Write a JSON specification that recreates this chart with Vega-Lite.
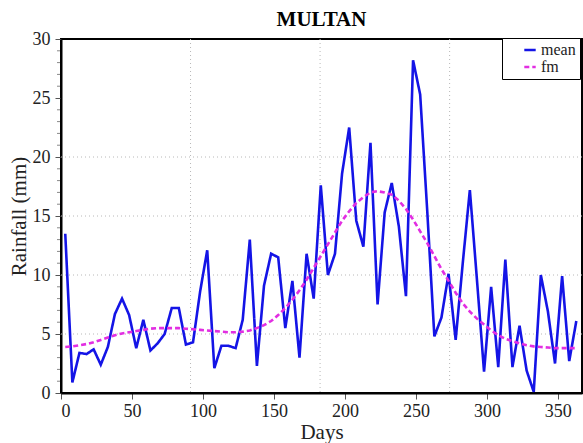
{
  "$schema": "https://vega.github.io/schema/vega-lite/v6.json",
  "autosize": {"type": "none"},
  "width": 521,
  "height": 354,
  "padding": {"left": 61, "top": 39, "right": 1, "bottom": 50},
  "background": "white",
  "config": {
    "view": {"stroke": "black", "strokeWidth": 2},
    "font": "Liberation Serif"
  },
  "title": {"text": "MULTAN", "font": "Liberation Serif", "fontSize": 21, "fontWeight": "bold", "color": "black", "frame": "group", "offset": 0},
  "datasets": {
    "series": [
      {"day": 3, "value": 13.5, "series": "mean"},
      {"day": 8, "value": 0.9, "series": "mean"},
      {"day": 13, "value": 3.4, "series": "mean"},
      {"day": 18, "value": 3.3, "series": "mean"},
      {"day": 23, "value": 3.7, "series": "mean"},
      {"day": 28, "value": 2.4, "series": "mean"},
      {"day": 33, "value": 3.9, "series": "mean"},
      {"day": 38, "value": 6.7, "series": "mean"},
      {"day": 43, "value": 8.0, "series": "mean"},
      {"day": 48, "value": 6.6, "series": "mean"},
      {"day": 53, "value": 3.8, "series": "mean"},
      {"day": 58, "value": 6.2, "series": "mean"},
      {"day": 63, "value": 3.6, "series": "mean"},
      {"day": 68, "value": 4.2, "series": "mean"},
      {"day": 73, "value": 5.0, "series": "mean"},
      {"day": 78, "value": 7.2, "series": "mean"},
      {"day": 83, "value": 7.2, "series": "mean"},
      {"day": 88, "value": 4.1, "series": "mean"},
      {"day": 93, "value": 4.3, "series": "mean"},
      {"day": 98, "value": 8.6, "series": "mean"},
      {"day": 103, "value": 12.1, "series": "mean"},
      {"day": 108, "value": 2.1, "series": "mean"},
      {"day": 113, "value": 4.0, "series": "mean"},
      {"day": 118, "value": 4.0, "series": "mean"},
      {"day": 123, "value": 3.8, "series": "mean"},
      {"day": 128, "value": 6.2, "series": "mean"},
      {"day": 133, "value": 13.0, "series": "mean"},
      {"day": 138, "value": 2.3, "series": "mean"},
      {"day": 143, "value": 9.1, "series": "mean"},
      {"day": 148, "value": 11.8, "series": "mean"},
      {"day": 153, "value": 11.5, "series": "mean"},
      {"day": 158, "value": 5.5, "series": "mean"},
      {"day": 163, "value": 9.5, "series": "mean"},
      {"day": 168, "value": 3.0, "series": "mean"},
      {"day": 173, "value": 11.8, "series": "mean"},
      {"day": 178, "value": 8.0, "series": "mean"},
      {"day": 183, "value": 17.6, "series": "mean"},
      {"day": 188, "value": 10.0, "series": "mean"},
      {"day": 193, "value": 11.8, "series": "mean"},
      {"day": 198, "value": 18.6, "series": "mean"},
      {"day": 203, "value": 22.5, "series": "mean"},
      {"day": 208, "value": 14.6, "series": "mean"},
      {"day": 213, "value": 12.4, "series": "mean"},
      {"day": 218, "value": 21.2, "series": "mean"},
      {"day": 223, "value": 7.5, "series": "mean"},
      {"day": 228, "value": 15.3, "series": "mean"},
      {"day": 233, "value": 17.8, "series": "mean"},
      {"day": 238, "value": 14.1, "series": "mean"},
      {"day": 243, "value": 8.2, "series": "mean"},
      {"day": 248, "value": 28.2, "series": "mean"},
      {"day": 253, "value": 25.3, "series": "mean"},
      {"day": 258, "value": 15.4, "series": "mean"},
      {"day": 263, "value": 4.8, "series": "mean"},
      {"day": 268, "value": 6.4, "series": "mean"},
      {"day": 273, "value": 10.1, "series": "mean"},
      {"day": 278, "value": 4.5, "series": "mean"},
      {"day": 283, "value": 11.0, "series": "mean"},
      {"day": 288, "value": 17.2, "series": "mean"},
      {"day": 293, "value": 9.6, "series": "mean"},
      {"day": 298, "value": 1.8, "series": "mean"},
      {"day": 303, "value": 9.0, "series": "mean"},
      {"day": 308, "value": 2.2, "series": "mean"},
      {"day": 313, "value": 11.3, "series": "mean"},
      {"day": 318, "value": 2.2, "series": "mean"},
      {"day": 323, "value": 5.7, "series": "mean"},
      {"day": 328, "value": 1.9, "series": "mean"},
      {"day": 333, "value": 0.1, "series": "mean"},
      {"day": 338, "value": 10.0, "series": "mean"},
      {"day": 343, "value": 6.9, "series": "mean"},
      {"day": 348, "value": 2.5, "series": "mean"},
      {"day": 353, "value": 9.9, "series": "mean"},
      {"day": 358, "value": 2.7, "series": "mean"},
      {"day": 363, "value": 6.1, "series": "mean"},
      {"day": 3, "value": 3.9, "series": "fm"},
      {"day": 8, "value": 3.95, "series": "fm"},
      {"day": 13, "value": 4.05, "series": "fm"},
      {"day": 18, "value": 4.15, "series": "fm"},
      {"day": 23, "value": 4.3, "series": "fm"},
      {"day": 28, "value": 4.5, "series": "fm"},
      {"day": 33, "value": 4.7, "series": "fm"},
      {"day": 38, "value": 4.9, "series": "fm"},
      {"day": 43, "value": 5.05, "series": "fm"},
      {"day": 48, "value": 5.15, "series": "fm"},
      {"day": 53, "value": 5.25, "series": "fm"},
      {"day": 58, "value": 5.35, "series": "fm"},
      {"day": 63, "value": 5.45, "series": "fm"},
      {"day": 68, "value": 5.5, "series": "fm"},
      {"day": 73, "value": 5.5, "series": "fm"},
      {"day": 78, "value": 5.5, "series": "fm"},
      {"day": 83, "value": 5.5, "series": "fm"},
      {"day": 88, "value": 5.45, "series": "fm"},
      {"day": 93, "value": 5.4, "series": "fm"},
      {"day": 98, "value": 5.35, "series": "fm"},
      {"day": 103, "value": 5.3, "series": "fm"},
      {"day": 108, "value": 5.25, "series": "fm"},
      {"day": 113, "value": 5.2, "series": "fm"},
      {"day": 118, "value": 5.15, "series": "fm"},
      {"day": 123, "value": 5.15, "series": "fm"},
      {"day": 128, "value": 5.2, "series": "fm"},
      {"day": 133, "value": 5.3, "series": "fm"},
      {"day": 138, "value": 5.5, "series": "fm"},
      {"day": 143, "value": 5.75, "series": "fm"},
      {"day": 148, "value": 6.1, "series": "fm"},
      {"day": 153, "value": 6.6, "series": "fm"},
      {"day": 158, "value": 7.2, "series": "fm"},
      {"day": 163, "value": 7.9, "series": "fm"},
      {"day": 168, "value": 8.7, "series": "fm"},
      {"day": 173, "value": 9.6, "series": "fm"},
      {"day": 178, "value": 10.6, "series": "fm"},
      {"day": 183, "value": 11.6, "series": "fm"},
      {"day": 188, "value": 12.6, "series": "fm"},
      {"day": 193, "value": 13.6, "series": "fm"},
      {"day": 198, "value": 14.6, "series": "fm"},
      {"day": 203, "value": 15.4, "series": "fm"},
      {"day": 208, "value": 16.1, "series": "fm"},
      {"day": 213, "value": 16.6, "series": "fm"},
      {"day": 218, "value": 17.0, "series": "fm"},
      {"day": 223, "value": 17.1, "series": "fm"},
      {"day": 228, "value": 17.0, "series": "fm"},
      {"day": 233, "value": 16.8, "series": "fm"},
      {"day": 238, "value": 16.3, "series": "fm"},
      {"day": 243, "value": 15.6, "series": "fm"},
      {"day": 248, "value": 14.7, "series": "fm"},
      {"day": 253, "value": 13.7, "series": "fm"},
      {"day": 258, "value": 12.7, "series": "fm"},
      {"day": 263, "value": 11.6, "series": "fm"},
      {"day": 268, "value": 10.5, "series": "fm"},
      {"day": 273, "value": 9.5, "series": "fm"},
      {"day": 278, "value": 8.5, "series": "fm"},
      {"day": 283, "value": 7.6, "series": "fm"},
      {"day": 288, "value": 6.9, "series": "fm"},
      {"day": 293, "value": 6.3, "series": "fm"},
      {"day": 298, "value": 5.8, "series": "fm"},
      {"day": 303, "value": 5.3, "series": "fm"},
      {"day": 308, "value": 4.9, "series": "fm"},
      {"day": 313, "value": 4.6, "series": "fm"},
      {"day": 318, "value": 4.4, "series": "fm"},
      {"day": 323, "value": 4.2, "series": "fm"},
      {"day": 328, "value": 4.05, "series": "fm"},
      {"day": 333, "value": 3.95, "series": "fm"},
      {"day": 338, "value": 3.9, "series": "fm"},
      {"day": 343, "value": 3.85, "series": "fm"},
      {"day": 348, "value": 3.8, "series": "fm"},
      {"day": 353, "value": 3.8, "series": "fm"},
      {"day": 358, "value": 3.8, "series": "fm"},
      {"day": 363, "value": 3.8, "series": "fm"}
    ],
    "vgrid": [{"gx": 91.25}, {"gx": 182.5}, {"gx": 273.75}],
    "hgrid": [{"gy": 5}, {"gy": 10}, {"gy": 15}, {"gy": 20}],
    "minor": [
      {"my": 1}, {"my": 2}, {"my": 3}, {"my": 4}, {"my": 6}, {"my": 7}, {"my": 8}, {"my": 9},
      {"my": 11}, {"my": 12}, {"my": 13}, {"my": 14}, {"my": 16}, {"my": 17}, {"my": 18}, {"my": 19},
      {"my": 21}, {"my": 22}, {"my": 23}, {"my": 24}, {"my": 26}, {"my": 27}, {"my": 28}, {"my": 29}
    ]
  },
  "layer": [
    {
      "data": {"name": "vgrid"},
      "mark": {"type": "rule", "color": "#b8b8b8", "strokeDash": [1, 3], "strokeWidth": 1},
      "encoding": {
        "x": {"field": "gx", "type": "quantitative", "scale": {"domain": [0, 367], "nice": false}}
      }
    },
    {
      "data": {"name": "hgrid"},
      "mark": {"type": "rule", "color": "#b8b8b8", "strokeDash": [1, 3], "strokeWidth": 1},
      "encoding": {
        "y": {"field": "gy", "type": "quantitative", "scale": {"domain": [0, 30], "nice": false}}
      }
    },
    {
      "data": {"name": "minor"},
      "mark": {"type": "tick", "orient": "horizontal", "color": "#555", "size": 3, "thickness": 1, "xOffset": -2.5},
      "encoding": {
        "x": {"datum": 0, "type": "quantitative"},
        "y": {"field": "my", "type": "quantitative"}
      }
    },
    {
      "data": {"name": "series"},
      "mark": {"type": "line", "strokeWidth": 2.6, "clip": true},
      "encoding": {
        "x": {
          "field": "day", "type": "quantitative",
          "scale": {"domain": [0, 367], "nice": false},
          "axis": {
            "title": "Days", "values": [0, 50, 100, 150, 200, 250, 300, 350],
            "grid": false, "domainColor": "black", "domainWidth": 2,
            "tickColor": "#555", "tickSize": 6, "labelFont": "Liberation Serif", "labelFontSize": 18,
            "labelColor": "#222", "labelPadding": 3, "titleFont": "Liberation Serif", "titleFontSize": 21,
            "titleFontWeight": "normal", "titleColor": "#222", "titlePadding": 1
          }
        },
        "y": {
          "field": "value", "type": "quantitative",
          "scale": {"domain": [0, 30], "nice": false},
          "axis": {
            "title": "Rainfall (mm)", "values": [0, 5, 10, 15, 20, 25, 30],
            "grid": false, "domainColor": "black", "domainWidth": 2,
            "tickColor": "#555", "tickSize": 6, "labelFont": "Liberation Serif", "labelFontSize": 18,
            "labelColor": "#222", "labelPadding": 5, "titleFont": "Liberation Serif", "titleFontSize": 21,
            "titleFontWeight": "normal", "titleColor": "#222", "titlePadding": 3
          }
        },
        "color": {
          "field": "series", "type": "nominal",
          "scale": {"domain": ["mean", "fm"], "range": ["#1414e6", "#e22ee2"]},
          "legend": {
            "title": null, "orient": "none", "legendX": 441, "legendY": -1,
            "fillColor": "white", "strokeColor": "black", "padding": 4,
            "symbolType": "stroke", "symbolSize": 130, "symbolStrokeWidth": 2.5, "symbolOffset": 16,
            "labelFont": "Liberation Serif", "labelFontSize": 16, "labelColor": "#222",
            "rowPadding": 1, "labelOffset": 3
          }
        },
        "strokeDash": {
          "field": "series", "type": "nominal",
          "scale": {"domain": ["mean", "fm"], "range": [[1, 0], [5, 3]]},
          "legend": null
        }
      }
    }
  ]
}
